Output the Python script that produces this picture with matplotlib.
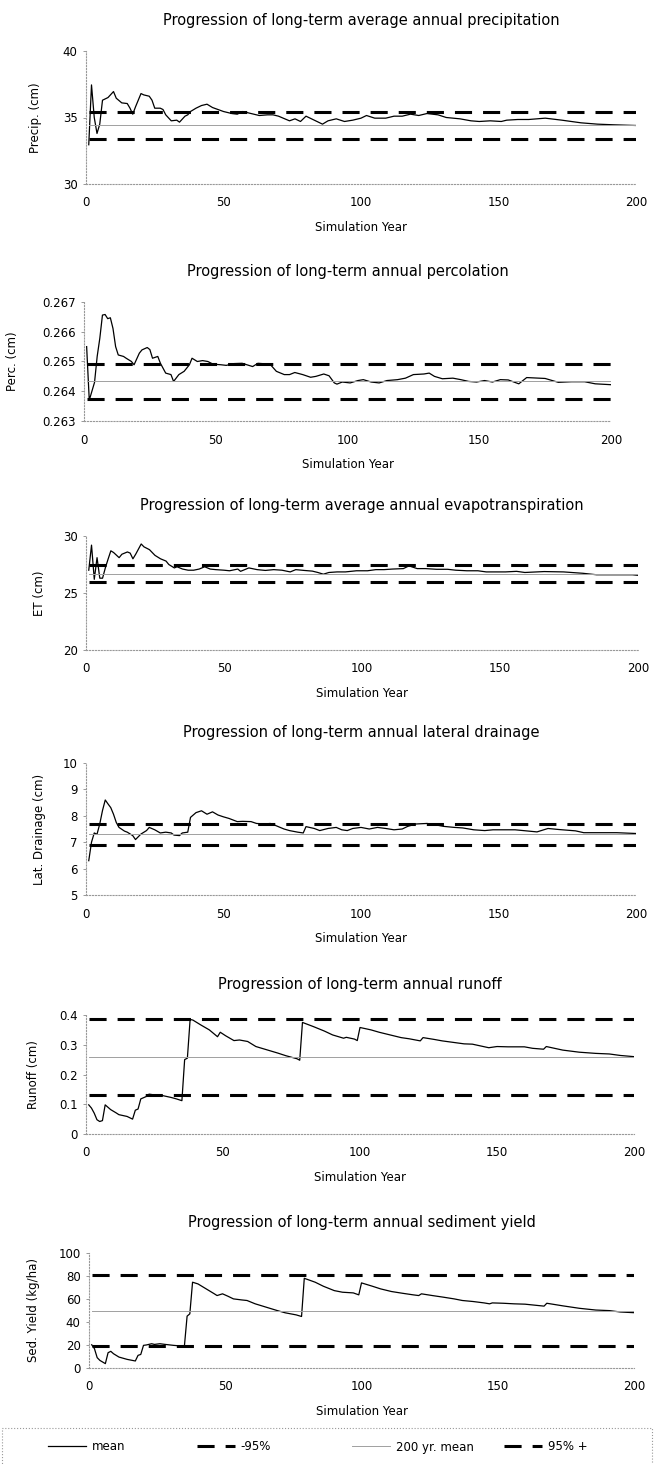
import matplotlib.pyplot as plt
from matplotlib.ticker import FuncFormatter
from matplotlib.patches import Rectangle

plt.rcParams['font.family'] = ['DejaVu Sans']

W, H = 658, 1464

# simulation span
first_year, last_year = 1, 200

# --- precipitation (cm) ---
precip_years = [1, 2, 3, 4, 5, 6, 8, 10, 11, 13, 15, 16, 17, 18, 20, 21, 23, 24, 25, 27,
                28, 29, 31, 33, 34, 36, 37, 38, 40, 42, 44, 46, 48, 50, 53, 55, 57, 60, 63, 66,
                68, 70, 74, 76, 78, 80, 83, 86, 88, 91, 94, 97, 100, 102, 105, 109, 112, 115, 118, 121,
                124, 128, 131, 136, 140, 143, 147, 151, 153, 157, 161, 167, 173, 180, 186, 192, 200]
precip_mean = [32.95, 37.45, 35.0, 33.8, 34.5, 36.3, 36.5, 36.95, 36.45, 36.1, 36.05, 35.7, 35.25, 35.8, 36.8, 36.7, 36.6, 36.3, 35.7, 35.7,
               35.6, 35.2, 34.75, 34.8, 34.65, 35.1, 35.2, 35.45, 35.7, 35.9, 36.0, 35.75, 35.6, 35.45, 35.3, 35.25, 35.45, 35.3, 35.15, 35.2,
               35.2, 35.1, 34.75, 34.9, 34.7, 35.1, 34.8, 34.5, 34.75, 34.9, 34.7, 34.8, 34.95, 35.15, 34.95, 34.95, 35.1, 35.1, 35.25, 35.15,
               35.3, 35.2, 35.0, 34.9, 34.75, 34.7, 34.75, 34.7, 34.8, 34.85, 34.85, 34.95, 34.8, 34.6, 34.5, 34.45, 34.4]
precip_avg, precip_lo, precip_hi = 34.45, 33.4, 35.45

# --- percolation (cm) ---
perc_years = [1, 2, 4, 5, 6, 7, 8, 9, 10, 11, 12, 13, 15, 16, 18, 19, 21, 22, 24, 25,
              26, 28, 29, 31, 33, 34, 36, 38, 40, 41, 43, 45, 47, 49, 52, 54, 57, 60, 64, 66,
              69, 71, 73, 76, 78, 80, 83, 86, 88, 91, 93, 95, 96, 98, 101, 104, 106, 109, 112, 115,
              119, 122, 125, 129, 131, 133, 136, 140, 143, 146, 149, 152, 155, 158, 161, 165, 168, 175, 180, 185,
              190, 194, 200]
perc_mean = [0.2655, 0.2637, 0.2643, 0.26517, 0.26578, 0.26656, 0.26658, 0.26644, 0.26647, 0.26611, 0.2655, 0.26522, 0.26517, 0.26511, 0.265, 0.26489, 0.26528, 0.26539, 0.26547, 0.2654,
             0.26511, 0.26517, 0.26494, 0.26461, 0.26456, 0.26433, 0.26456, 0.26467, 0.26489, 0.26511, 0.265, 0.26503, 0.265, 0.26491, 0.26489, 0.26487, 0.26493, 0.26494, 0.26483, 0.26494,
             0.26492, 0.26487, 0.26467, 0.26456, 0.26456, 0.26463, 0.26456, 0.26447, 0.2645, 0.26458, 0.26452, 0.26428, 0.26424, 0.26431, 0.26428, 0.26436, 0.26439, 0.26431, 0.26428, 0.26436,
             0.26439, 0.26444, 0.26456, 0.26458, 0.26461, 0.2645, 0.26442, 0.26444, 0.26439, 0.26433, 0.26431, 0.26436, 0.26431, 0.26439, 0.26438, 0.26425, 0.26446, 0.26443, 0.2643, 0.26432,
             0.26432, 0.26425, 0.26422]
perc_avg, perc_lo, perc_hi = 0.26435, 0.26373, 0.26492

# --- evapotranspiration (cm) ---
et_years = [1, 2, 3, 4, 5, 6, 7, 8, 9, 10, 12, 13, 15, 16, 17, 18, 20, 21, 23, 25,
            27, 29, 30, 32, 33, 35, 37, 39, 41, 43, 45, 47, 50, 52, 55, 56, 59, 62, 65, 68,
            71, 74, 76, 79, 82, 84, 86, 88, 91, 94, 98, 102, 105, 108, 111, 115, 117, 120, 123, 127,
            131, 134, 138, 142, 145, 149, 152, 156, 159, 166, 173, 180, 185, 192, 198, 200]
et_mean = [27.0, 29.2, 26.2, 28.1, 26.3, 26.3, 27.2, 27.97, 28.7, 28.55, 28.1, 28.4, 28.6, 28.5, 28.0, 28.4, 29.3, 29.05, 28.8, 28.3,
           28.0, 27.8, 27.5, 27.2, 27.3, 27.1, 27.0, 27.0, 27.1, 27.3, 27.1, 27.05, 27.0, 26.95, 27.1, 26.9, 27.2, 27.05, 26.98, 27.05,
           27.0, 26.85, 27.05, 26.98, 26.92, 26.8, 26.65, 26.8, 26.85, 26.85, 26.95, 26.95, 27.05, 27.05, 27.1, 27.14, 27.38, 27.14, 27.14, 27.08,
           27.08, 27.0, 26.95, 26.95, 26.85, 26.85, 26.85, 26.9, 26.8, 26.88, 26.85, 26.73, 26.6, 26.6, 26.6, 26.55]
et_avg, et_lo, et_hi = 26.7, 26.0, 27.5

# --- lateral drainage (cm) ---
lat_years = [1, 2, 3, 4, 5, 6, 7, 8, 9, 10, 11, 12, 14, 15, 17, 18, 20, 22, 23, 25,
             27, 29, 31, 32, 34, 35, 37, 38, 40, 42, 44, 46, 48, 50, 52, 55, 57, 60, 62, 65,
             67, 69, 72, 74, 77, 79, 80, 83, 85, 88, 91, 93, 95, 97, 100, 103, 106, 109, 112, 115,
             117, 120, 124, 127, 130, 134, 137, 141, 145, 148, 152, 156, 160, 164, 168, 172, 178, 181, 187, 193,
             200]
lat_mean = [6.3, 7.0, 7.35, 7.3, 7.69, 8.2, 8.6, 8.45, 8.31, 8.06, 7.75, 7.56, 7.42, 7.38, 7.25, 7.1, 7.31, 7.44, 7.56, 7.47,
            7.35, 7.38, 7.35, 7.27, 7.25, 7.35, 7.38, 7.94, 8.12, 8.19, 8.06, 8.15, 8.03, 7.96, 7.9, 7.78, 7.79, 7.78, 7.71, 7.69,
            7.71, 7.63, 7.5, 7.44, 7.38, 7.35, 7.59, 7.52, 7.44, 7.52, 7.56, 7.47, 7.44, 7.52, 7.56, 7.5, 7.56, 7.52, 7.47, 7.5,
            7.6, 7.69, 7.71, 7.66, 7.6, 7.56, 7.54, 7.47, 7.44, 7.47, 7.47, 7.47, 7.43, 7.39, 7.52, 7.48, 7.43, 7.36, 7.36, 7.36,
            7.33]
lat_avg, lat_lo, lat_hi = 7.3, 6.9, 7.7

# --- runoff (cm) ---
runoff_years = [1, 2, 3, 4, 5, 6, 7, 9, 11, 12, 15, 17, 18, 19, 20, 22, 23, 26, 28, 31,
                33, 35, 36, 37, 38, 39, 42, 45, 48, 49, 51, 54, 56, 59, 62, 66, 70, 73, 77, 78,
                79, 83, 87, 90, 94, 95, 98, 99, 100, 104, 107, 111, 115, 118, 122, 123, 127, 130, 134, 138,
                141, 145, 147, 150, 154, 157, 160, 163, 167, 168, 174, 180, 186, 191, 195, 200]
runoff_mean = [0.098, 0.087, 0.07, 0.048, 0.042, 0.045, 0.098, 0.082, 0.071, 0.065, 0.059, 0.05, 0.08, 0.084, 0.118, 0.126, 0.134, 0.13, 0.129, 0.123,
               0.118, 0.112, 0.25, 0.255, 0.385, 0.383, 0.366, 0.35, 0.327, 0.342, 0.33, 0.314, 0.316, 0.311, 0.294, 0.283, 0.272, 0.263, 0.253, 0.248,
               0.375, 0.361, 0.346, 0.333, 0.322, 0.325, 0.319, 0.314, 0.358, 0.35, 0.342, 0.333, 0.324, 0.32, 0.313, 0.324, 0.318, 0.313, 0.308, 0.303,
               0.302, 0.294, 0.29, 0.294, 0.293, 0.293, 0.293, 0.288, 0.285, 0.294, 0.282, 0.275, 0.271, 0.269, 0.264, 0.26]
runoff_avg, runoff_lo, runoff_hi = 0.258, 0.132, 0.386

# --- sediment yield (kg/ha) ---
sed_years = [1, 2, 3, 4, 5, 6, 7, 8, 9, 11, 14, 17, 18, 19, 20, 21, 23, 24, 26, 28,
             31, 33, 35, 36, 37, 38, 40, 43, 46, 47, 49, 51, 53, 56, 58, 61, 65, 69, 72, 76,
             78, 79, 83, 86, 90, 93, 97, 99, 100, 104, 107, 111, 115, 119, 121, 122, 126, 130, 134, 137,
             141, 145, 147, 148, 152, 156, 160, 167, 168, 174, 180, 186, 191, 195, 200]
sed_mean = [20.2, 16.8, 9.0, 6.6, 5.2, 3.8, 13.3, 14.5, 12.4, 9.5, 7.5, 6.1, 11.0, 11.8, 19.7, 20.0, 21.1, 20.5, 21.1, 20.5,
            19.7, 19.3, 18.8, 45.1, 47.1, 74.6, 73.1, 68.8, 64.5, 63.0, 64.5, 62.4, 60.1, 59.2, 58.7, 55.8, 52.9, 50.0, 48.0, 46.2,
            44.8, 78.0, 74.6, 71.1, 67.3, 65.9, 65.3, 63.6, 74.0, 71.1, 68.8, 66.5, 65.0, 63.6, 63.0, 64.5, 63.0, 61.6, 60.1, 58.7,
            57.8, 56.6, 55.8, 56.6, 56.3, 55.8, 55.5, 53.8, 56.3, 54.0, 51.9, 50.4, 49.9, 48.7, 48.1]
sed_avg, sed_lo, sed_hi = 50.0, 19.0, 81.0

titles = ['Progression of long-term average annual precipitation',
          'Progression of long-term annual percolation',
          'Progression of long-term average annual evapotranspiration',
          'Progression of long-term annual lateral drainage',
          'Progression of long-term annual runoff',
          'Progression of long-term annual sediment yield']
ylabels = ['Precip. (cm)', 'Perc. (cm)', 'ET (cm)', 'Lat. Drainage (cm)',
           'Runoff (cm)', 'Sed. Yield (kg/ha)']
yticks = [[30, 35, 40],
          [0.263, 0.264, 0.265, 0.266, 0.267],
          [20, 25, 30],
          [5, 6, 7, 8, 9, 10],
          [0, 0.1, 0.2, 0.3, 0.4],
          [0, 20, 40, 60, 80, 100]]
xticks = [0, 50, 100, 150, 200]

series = [(precip_years, precip_mean, precip_avg, precip_lo, precip_hi),
          (perc_years, perc_mean, perc_avg, perc_lo, perc_hi),
          (et_years, et_mean, et_avg, et_lo, et_hi),
          (lat_years, lat_mean, lat_avg, lat_lo, lat_hi),
          (runoff_years, runoff_mean, runoff_avg, runoff_lo, runoff_hi),
          (sed_years, sed_mean, sed_avg, sed_lo, sed_hi)]

# axes boxes in pixels: left, top, right, bottom, ylabel x
boxes = [(86, 51, 636, 184, 42),
         (84, 302, 611, 421, 19),
         (86, 536, 638, 650, 46),
         (86, 763, 636, 895, 46),
         (86, 1015, 634, 1134, 40),
         (89, 1253, 634, 1368, 40)]

dash = (0, (5.6, 3.6))
fig = plt.figure(figsize=(W / 100, H / 100), dpi=100)

for i, (yrs, mean, avg, lo, hi) in enumerate(series):
    l, t, r, b, lx = boxes[i]
    ax = fig.add_axes([l / W, 1 - b / H, (r - l) / W, (b - t) / H])
    h_mean, = ax.plot(yrs, mean, color='black', lw=0.9)
    h_lo, = ax.plot([first_year, last_year], [lo, lo], color='black', lw=2.2, linestyle=dash)
    h_avg, = ax.plot([first_year, last_year], [avg, avg], color='#a0a0a0', lw=0.7)
    h_hi, = ax.plot([first_year, last_year], [hi, hi], color='black', lw=2.2, linestyle=dash)

    ax.set_xlim(0, 200)
    ax.set_ylim(yticks[i][0], yticks[i][-1])
    ax.set_xticks(xticks)
    ax.set_yticks(yticks[i])
    if i == 1:
        ax.yaxis.set_major_formatter(FuncFormatter(lambda v, p: '%.3f' % v))
    else:
        ax.yaxis.set_major_formatter(FuncFormatter(lambda v, p: '%g' % v))
    ax.tick_params(axis='x', length=0, pad=9, labelsize=8.5)
    ax.tick_params(axis='y', length=2, width=0.6, color='#888888', pad=4, labelsize=8.5)
    for s in ['top', 'right']:
        ax.spines[s].set_visible(False)
    for s in ['left', 'bottom']:
        ax.spines[s].set_color('#999999')
        ax.spines[s].set_linewidth(0.8)
        ax.spines[s].set_linestyle(':')

    ax.set_title(titles[i], fontsize=10.5, pad=19)
    ax.set_xlabel('Simulation Year', fontsize=8.5, labelpad=8)
    ax.set_ylabel(ylabels[i], fontsize=8.5)
    ax.yaxis.set_label_coords((lx - l) / (r - l), 0.5)

# legend along the bottom
legend_items = [(h_mean, 'mean', 48), (h_lo, '-95%', 197),
                (h_avg, '200 yr. mean', 352), (h_hi, '95% +', 504)]
for h, lab, x in legend_items:
    fig.legend([h], [lab], loc='center left', bbox_to_anchor=(x / W, 1 - 1447 / H),
               frameon=False, fontsize=8.5, handlelength=3.2, handletextpad=0.5,
               borderpad=0, borderaxespad=0)

fig.add_artist(Rectangle((2 / W, -0.01), 650 / W, 0.01 + 1 - 1428 / H,
                         transform=fig.transFigure, fill=False,
                         edgecolor='#999999', lw=0.8, ls=':'))

fig.savefig('out.png', dpi=100)
